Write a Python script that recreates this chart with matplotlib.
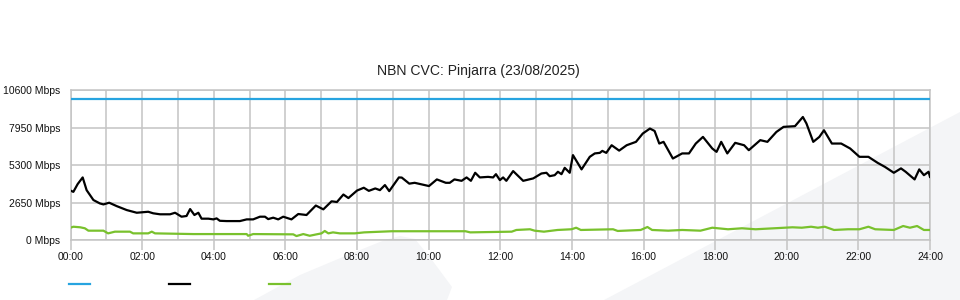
import matplotlib.pyplot as plt
from matplotlib.patches import Polygon
from matplotlib.ticker import MultipleLocator, FixedLocator

plt.rcParams['font.family'] = ['Liberation Sans', 'DejaVu Sans']

# hours since midnight / Mbps
black_hours = [0.0, 0.08, 0.2, 0.34, 0.45, 0.64, 0.82, 0.92, 1.08, 1.29, 1.57, 1.85,
               2.17, 2.31, 2.5, 2.78, 2.92, 3.1, 3.24, 3.34, 3.46, 3.57, 3.66, 3.85,
               3.99, 4.08, 4.17, 4.36, 4.73, 4.92, 5.1, 5.29, 5.43, 5.52, 5.66, 5.8,
               5.94, 6.17, 6.36, 6.59, 6.85, 7.06, 7.29, 7.44, 7.62, 7.76, 8.0, 8.19,
               8.33, 8.51, 8.64, 8.78, 8.9, 9.17, 9.25, 9.46, 9.61, 10.01, 10.23, 10.48,
               10.59, 10.72, 10.92, 11.06, 11.18, 11.3, 11.43, 11.66, 11.8, 11.88, 11.99,
               12.08, 12.17, 12.36, 12.64, 12.92, 13.15, 13.29, 13.38, 13.52, 13.61,
               13.71, 13.8, 13.94, 14.03, 14.27, 14.5, 14.64, 14.78, 14.85, 14.96, 15.11,
               15.32, 15.53, 15.79, 15.98, 16.18, 16.31, 16.44, 16.56, 16.82, 17.08,
               17.27, 17.46, 17.66, 17.92, 18.04, 18.17, 18.34, 18.56, 18.81, 18.94,
               19.26, 19.46, 19.71, 19.91, 20.23, 20.45, 20.55, 20.74, 20.91, 21.04,
               21.26, 21.52, 21.77, 22.03, 22.28, 22.54, 22.74, 22.99, 23.19, 23.32,
               23.57, 23.7, 23.83, 23.96, 24.0]
black_mbps = [3500, 3410, 3960, 4430, 3530, 2830, 2590, 2520, 2640, 2400, 2120, 1930,
              2000, 1890, 1820, 1820, 1930, 1650, 1700, 2190, 1770, 1930, 1510, 1510,
              1460, 1530, 1360, 1340, 1340, 1460, 1460, 1650, 1650, 1480, 1580, 1460,
              1650, 1460, 1840, 1770, 2440, 2170, 2740, 2690, 3220, 2970, 3500, 3700,
              3480, 3650, 3530, 3890, 3460, 4430, 4420, 3990, 4050, 3820, 4290, 4050,
              4050, 4290, 4190, 4430, 4190, 4760, 4430, 4470, 4430, 4660, 4240,
              4430, 4190, 4880, 4190, 4360, 4710, 4760, 4520, 4590, 4830,
              4660, 5110, 4760, 6010, 5000, 5890, 6130, 6170, 6310, 6170, 6710,
              6330, 6710, 6950, 7540, 7890, 7720, 6830, 6950, 5770, 6130,
              6130, 6830, 7300, 6480, 6240, 6950, 6130, 6880, 6710, 6360,
              7070, 6950, 7650, 8010, 8060, 8710, 8250, 6950, 7300, 7770,
              6830, 6830, 6480, 5890, 5890, 5460, 5180, 4760, 5070, 4830,
              4290, 5000, 4590, 4830, 4470]

green_hours = [0.0, 0.08, 0.27, 0.4, 0.5, 0.92, 1.05, 1.24, 1.66, 1.75, 2.17, 2.27,
               2.36, 3.43, 4.92, 4.96, 5.1, 6.22, 6.31, 6.5, 6.68, 6.87, 7.01, 7.1,
               7.2, 7.33, 7.52, 7.94, 8.2, 8.97, 11.03, 11.16, 12.32, 12.45, 12.83,
               12.96, 13.22, 13.6, 13.99, 14.12, 14.25, 15.15, 15.28, 15.92, 16.11,
               16.24, 16.69, 17.08, 17.59, 17.92, 18.36, 18.75, 19.13, 19.65, 20.16,
               20.42, 20.68, 20.87, 21.06, 21.32, 21.71, 22.03, 22.28, 22.47, 22.99,
               23.25, 23.44, 23.64, 23.83, 24.0]
green_mbps = [870, 940, 900, 830, 660, 660, 470, 590, 590, 470, 470, 590,
              470, 420, 420, 300, 420, 400, 280, 420, 300, 400, 470, 640,
              470, 540, 470, 470, 540, 620, 620, 540, 590, 710, 760,
              660, 590, 710, 760, 870, 710, 760, 640, 710, 920,
              710, 660, 710, 660, 870, 760, 830, 760, 830, 900,
              870, 940, 870, 940, 710, 760, 760, 940, 760, 710,
              990, 870, 990, 710, 710]

blue_hours = [0, 24]
blue_mbps = [10000, 10000]

y_ticks = [0, 2650, 5300, 7950, 10600]
x_ticks = list(range(0, 25, 2))
x_labels = [f"{h:02d}:00" for h in x_ticks]

grid_col = '#c4c4c4'

fig = plt.figure(figsize=(9.6, 3.0), dpi=100)

# faint background swooshes, kept behind the axes
swoosh_a = [(254, 300), (300, 275), (350, 254), (385, 240), (400, 236), (415, 239),
            (432, 260), (452, 287), (447, 300)]
swoosh_b = [(604, 300), (960, 112), (960, 300)]
for pts in (swoosh_a, swoosh_b):
    fig.patches.append(Polygon([(x / 960, (300 - y) / 300) for x, y in pts],
                               closed=True, transform=fig.transFigure,
                               facecolor='#f4f5f7', edgecolor='none', zorder=-5))

ax = fig.add_axes([70.5 / 960, 0.2, (930 - 70.5) / 960, (240 - 90.3) / 300])
ax.set_facecolor('none')
ax.set_zorder(1)

l_blue, = ax.plot(blue_hours, blue_mbps, color='#27a4e0', lw=1.6, zorder=3)
l_black, = ax.plot(black_hours, black_mbps, color='#000000', lw=1.6, zorder=4)
l_green, = ax.plot(green_hours, green_mbps, color='#79c12d', lw=1.6, zorder=3)

ax.set_xlim(0, 24)
ax.set_ylim(0, 10600)
ax.xaxis.set_major_locator(FixedLocator(x_ticks))
ax.xaxis.set_minor_locator(MultipleLocator(1))
ax.set_xticklabels(x_labels)
ax.set_yticks(y_ticks)
ax.set_yticklabels([f"{v} Mbps" for v in y_ticks])

ax.grid(True, which='both', color=grid_col, lw=1.1)
ax.tick_params(axis='x', which='major', direction='out', length=7.2, width=1.1,
               color=grid_col, labelsize=7.5, pad=1.5, labelcolor='#111111')
ax.tick_params(axis='x', which='minor', length=0)
ax.tick_params(axis='y', length=0, labelsize=7.5, pad=7.5, labelcolor='#111111')
for s in ax.spines.values():
    s.set_color(grid_col)
    s.set_linewidth(1.1)

fig.text(0.498, 229 / 300, 'NBN CVC: Pinjarra (23/08/2025)', ha='center', va='center',
         fontsize=10.1, color='#222222')

leg = fig.legend(handles=[l_blue, l_black, l_green], labels=['', '', ''], ncol=3,
                 loc='center left', bbox_to_anchor=(69 / 960, 15 / 300), frameon=False,
                 fontsize=7.5, handlelength=2.0, handletextpad=0, columnspacing=7.6,
                 borderpad=0, borderaxespad=0)
leg.set_zorder(2)

fig.savefig('out.png', dpi=100)
